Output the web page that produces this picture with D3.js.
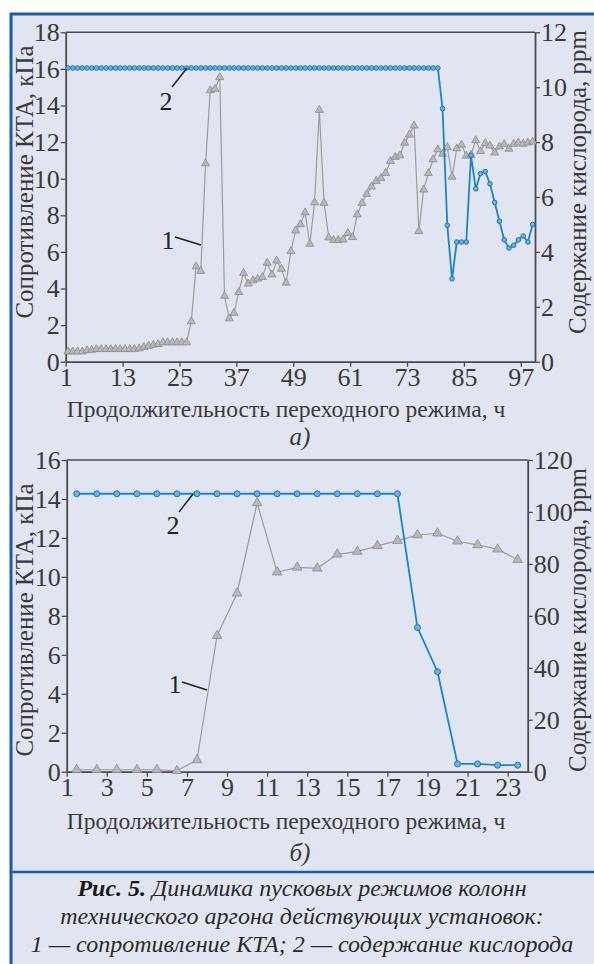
<!DOCTYPE html>
<html>
<head>
<meta charset="utf-8">
<script src="https://cdn.jsdelivr.net/npm/d3@7"></script>
<style>
  body { margin: 0; background: #fff; }
  svg { display: block; }
</style>
</head>
<body>
<svg id="fig" width="594" height="964"></svg>
<script>
// ---- panel a) : resistance (kPa) and oxygen (ppm) vs hours ----
var hoursA = d3.range(1.5, 100, 1);
var resistA = [
  0.55, 0.55, 0.55, 0.55, 0.62, 0.64, 0.68, 0.68, 0.68, 0.68,
  0.68, 0.68, 0.68, 0.68, 0.68, 0.72, 0.80, 0.86, 0.92, 0.96,
  1.05, 1.05, 1.05, 1.05, 1.05, 1.05, 2.2, 5.2, 4.95, 10.83,
  14.82, 14.9, 15.54, 3.59, 2.36, 2.66, 3.8, 4.84, 4.26, 4.44,
  4.53, 4.62, 5.4, 4.76, 5.52, 5.07, 4.31, 6.03, 7.16, 7.5,
  8.15, 6.43, 8.7, 13.75, 8.67, 6.78, 6.64, 6.64, 6.67, 7.02,
  6.8, 8.04, 8.67, 9.16, 9.56, 9.87, 10.02, 10.31, 10.96, 11.18,
  11.27, 11.96, 12.4, 12.9, 7.13, 9.4, 10.3, 11.05, 11.6, 11.35,
  11.72, 10.1, 11.65, 11.85, 11.25, 11.3, 12.1, 11.5, 11.93, 11.8,
  11.42, 11.75, 11.88, 11.63, 11.9, 11.97, 11.9, 11.97, 12.02
];
var oxygenA = [
  10.7, 10.7, 10.7, 10.7, 10.7, 10.7, 10.7, 10.7, 10.7, 10.7,
  10.7, 10.7, 10.7, 10.7, 10.7, 10.7, 10.7, 10.7, 10.7, 10.7,
  10.7, 10.7, 10.7, 10.7, 10.7, 10.7, 10.7, 10.7, 10.7, 10.7,
  10.7, 10.7, 10.7, 10.7, 10.7, 10.7, 10.7, 10.7, 10.7, 10.7,
  10.7, 10.7, 10.7, 10.7, 10.7, 10.7, 10.7, 10.7, 10.7, 10.7,
  10.7, 10.7, 10.7, 10.7, 10.7, 10.7, 10.7, 10.7, 10.7, 10.7,
  10.7, 10.7, 10.7, 10.7, 10.7, 10.7, 10.7, 10.7, 10.7, 10.7,
  10.7, 10.7, 10.7, 10.7, 10.7, 10.7, 10.7, 10.7, 10.7, 9.22,
  4.97, 3.02, 4.36, 4.36, 4.36, 7.52, 6.3, 6.85, 6.93, 6.48,
  5.8, 5.12, 4.44, 4.14, 4.24, 4.44, 4.58, 4.36, 5.0
];
var xTicksA = [1, 13, 25, 37, 49, 61, 73, 85, 97];
var yLeftTicksA = [0, 2, 4, 6, 8, 10, 12, 14, 16, 18];
var yRightTicksA = [0, 2, 4, 6, 8, 10, 12];

// ---- panel б) ----
var hoursB = d3.range(1.5, 24, 1);
var resistB = [
  0.1, 0.1, 0.1, 0.1, 0.1, 0.05, 0.6, 6.98, 9.16, 13.8,
  10.24, 10.49, 10.44, 11.16, 11.3, 11.59, 11.86, 12.15, 12.24, 11.83,
  11.64, 11.42, 10.88
];
var oxygenB = [
  107, 107, 107, 107, 107, 107, 107, 107, 107, 107,
  107, 107, 107, 107, 107, 107, 107, 55.5, 38.5, 3,
  3, 2.5, 2.5
];
var xTicksB = [1, 3, 5, 7, 9, 11, 13, 15, 17, 19, 21, 23];
var yLeftTicksB = [0, 2, 4, 6, 8, 10, 12, 14, 16];
var yRightTicksB = [0, 20, 40, 60, 80, 100, 120];

var xTitle = "Продолжительность переходного режима, ч";
var yLeftTitle = "Сопротивление КТА, кПа";
var yRightTitle = "Содержание кислорода, ppm";

var FONT = "Liberation Serif";
var svg = d3.select("#fig");
var BG = "#e1e5f1", FRAME = "#1a5ca8", AXIS = "#4a4a4a", INK = "#3a3a3a";
var GREY_LINE = "#9c9c9c", GREY_FILL = "#b8b8b8", GREY_STROKE = "#8c8c8c";
var BLUE_LINE = "#1a86c4", BLUE_FILL = "#74aedc", BLUE_STROKE = "#1a78b8";

svg.append("rect").attr("x", 10).attr("y", 13).attr("width", 600).attr("height", 960).attr("fill", BG);
svg.append("line").attr("x1", 11).attr("x2", 11).attr("y1", 13).attr("y2", 964)
  .attr("stroke", FRAME).attr("stroke-width", 3);
svg.append("line").attr("x1", 10).attr("x2", 594).attr("y1", 14).attr("y2", 14)
  .attr("stroke", FRAME).attr("stroke-width", 3);
svg.append("line").attr("x1", 10).attr("x2", 594).attr("y1", 872).attr("y2", 872)
  .attr("stroke", FRAME).attr("stroke-width", 2.5);

function label(g, x, y, size, txt) {
  return g.append("text").attr("x", x).attr("y", y).attr("font-size", size)
    .attr("font-family", FONT).attr("fill", INK).attr("text-anchor", "middle").text(txt);
}

function panel(cfg) {
  var g = svg.append("g");
  var x = d3.scaleLinear().domain(cfg.xDomain).range([cfg.left, cfg.right]);
  var yL = d3.scaleLinear().domain(cfg.yLDomain).range([cfg.bottom, cfg.top]);
  var yR = d3.scaleLinear().domain(cfg.yRDomain).range([cfg.bottom, cfg.top]);

  // box top
  g.append("line").attr("x1", cfg.left).attr("x2", cfg.right)
    .attr("y1", cfg.top).attr("y2", cfg.top)
    .attr("stroke", AXIS).attr("stroke-width", 1.5);

  var ax = [
    g.append("g").attr("transform", "translate(0," + cfg.bottom + ")")
      .call(d3.axisBottom(x).tickValues(cfg.xTicks).tickSize(5).tickSizeOuter(0).tickPadding(1)),
    g.append("g").attr("transform", "translate(" + cfg.left + ",0)")
      .call(d3.axisLeft(yL).tickValues(cfg.yLTicks).tickSize(5).tickSizeOuter(0).tickPadding(1)),
    g.append("g").attr("transform", "translate(" + cfg.right + ",0)")
      .call(d3.axisRight(yR).tickValues(cfg.yRTicks).tickSize(5).tickSizeOuter(0).tickPadding(1))
  ];
  ax.forEach(function(a) {
    a.attr("font-family", FONT).attr("font-size", 26);
    a.select(".domain").attr("stroke", AXIS).attr("stroke-width", 1.8);
    a.selectAll(".tick line").attr("stroke", AXIS).attr("stroke-width", 1.3);
    a.selectAll(".tick text").attr("font-family", FONT).attr("font-size", 26).attr("fill", INK);
  });

  // resistance (grey, triangles)
  var rPts = cfg.hours.map(function(h, i) { return [x(h), yL(cfg.resist[i])]; });
  g.append("path").attr("d", d3.line()(rPts)).attr("fill", "none")
    .attr("stroke", GREY_LINE).attr("stroke-width", 1.2);
  var tri = d3.symbol().type(d3.symbolTriangle).size(cfg.triSize);
  g.selectAll(".tri").data(rPts).enter().append("path")
    .attr("d", tri).attr("transform", function(d) { return "translate(" + d[0] + "," + d[1] + ")"; })
    .attr("fill", GREY_FILL).attr("stroke", GREY_STROKE).attr("stroke-width", 0.8);

  // oxygen (blue, circles)
  var oPts = cfg.hours.map(function(h, i) { return [x(h), yR(cfg.oxygen[i])]; });
  g.append("path").attr("d", d3.line()(oPts)).attr("fill", "none")
    .attr("stroke", BLUE_LINE).attr("stroke-width", 1.8);
  g.selectAll(".dot").data(oPts).enter().append("circle")
    .attr("cx", function(d) { return d[0]; }).attr("cy", function(d) { return d[1]; })
    .attr("r", cfg.dotR).attr("fill", BLUE_FILL).attr("stroke", BLUE_STROKE).attr("stroke-width", 1);

  // titles
  label(g, 286, cfg.xTitleY, 23.5, xTitle);
  label(g, 0, 0, 25, yLeftTitle).attr("transform", "translate(33," + cfg.yMid + ") rotate(-90)");
  label(g, 0, 0, 25, yRightTitle).attr("transform", "translate(586," + cfg.yMid + ") rotate(-90)");
  label(g, 300, cfg.subY, 25, cfg.sub).attr("font-style", "italic");

  // callouts
  cfg.callouts.forEach(function(c) {
    g.append("line").attr("x1", c.l[0]).attr("y1", c.l[1]).attr("x2", c.l[2]).attr("y2", c.l[3])
      .attr("stroke", "#222").attr("stroke-width", 1.5);
    label(g, c.t[0], c.t[1], 26, c.label).attr("fill", "#222");
  });
}

panel({
  xDomain: [1, 100], yLDomain: [0, 18], yRDomain: [0, 12],
  left: 65.7, right: 535, top: 32.3, bottom: 361.7,
  xTicks: xTicksA, yLTicks: yLeftTicksA, yRTicks: yRightTicksA,
  hours: hoursA, resist: resistA, oxygen: oxygenA,
  triSize: 28, dotR: 2.3,
  xTitleY: 417, subY: 445, sub: "а)", yMid: 182,
  callouts: [
    { label: "2", t: [166, 110], l: [172, 87, 187, 68] },
    { label: "1", t: [168, 249], l: [175, 237, 201, 245] }
  ]
});

panel({
  xDomain: [1, 24], yLDomain: [0, 16], yRDomain: [0, 120],
  left: 66.7, right: 527.7, top: 460, bottom: 771.7,
  xTicks: xTicksB, yLTicks: yLeftTicksB, yRTicks: yRightTicksB,
  hours: hoursB, resist: resistB, oxygen: oxygenB,
  triSize: 40, dotR: 3,
  xTitleY: 829, subY: 861, sub: "б)", yMid: 620,
  callouts: [
    { label: "2", t: [173, 534], l: [179, 512, 193, 494] },
    { label: "1", t: [175, 693], l: [182, 682, 207, 690] }
  ]
});

// caption
var cap = svg.append("g");
var l1 = label(cap, 302, 896, 24, "").attr("font-style", "italic").attr("fill", "#2a2a2a");
l1.append("tspan").attr("font-weight", "bold").attr("fill", "#1a1a1a").text("Рис. 5.");
l1.append("tspan").text(" Динамика пусковых режимов колонн");
label(cap, 302, 924, 24, "технического аргона действующих установок:")
  .attr("font-style", "italic").attr("fill", "#2a2a2a");
label(cap, 302, 952, 24, "1 — сопротивление КТА; 2 — содержание кислорода")
  .attr("font-style", "italic").attr("fill", "#2a2a2a");
</script>
</body>
</html>
